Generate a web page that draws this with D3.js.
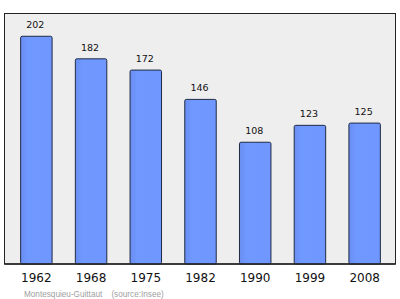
<!DOCTYPE html>
<html>
<head>
<meta charset="utf-8">
<script src="https://cdn.jsdelivr.net/npm/d3@7"></script>
<style>
  body { margin: 0; background: #fff; }
  svg { display: block; font-family: "DejaVu Sans", sans-serif; }
</style>
</head>
<body>
<div id="chart"></div>
<script>
const years = ["1962", "1968", "1975", "1982", "1990", "1999", "2008"];
const population = [202, 182, 172, 146, 108, 123, 125];
const footerName = "Montesquieu-Guittaut";
const footerSource = "(source:Insee)";

const width = 400, height = 299;
const frame = { left: 4.5, right: 395.5, top: 13.5, bottom: 264 };

const svg = d3.select("#chart").append("svg").attr("width", width).attr("height", height);

const defs = svg.append("defs");
const grad = defs.append("linearGradient").attr("id", "barFill").attr("x1", 0).attr("x2", 1).attr("y1", 0).attr("y2", 0);
grad.append("stop").attr("offset", "0").attr("stop-color", "#6a8ef2");
grad.append("stop").attr("offset", "0.25").attr("stop-color", "#7099ff");
grad.append("stop").attr("offset", "1").attr("stop-color", "#6f97ff");

const x = d3.scaleBand().domain(years).range([9, 392]).paddingInner(0.425).paddingOuter(0.2125);
const y = d3.scaleLinear().domain([0, d3.max(population) * 1.1]).range([frame.bottom, frame.top]);

// plot background
svg.append("rect")
  .attr("x", frame.left).attr("y", frame.top)
  .attr("width", frame.right - frame.left).attr("height", frame.bottom - frame.top)
  .attr("fill", "#eeeeee").attr("stroke", "#222").attr("stroke-width", 1);

svg.append("g")
  .selectAll("rect")
  .data(population)
  .join("rect")
  .attr("x", (d, i) => x(years[i]))
  .attr("y", (d) => y(d))
  .attr("width", x.bandwidth())
  .attr("height", (d) => y(0) - y(d))
  .attr("rx", 1.5)
  .attr("fill", "url(#barFill)")
  .attr("stroke", "#1f2a44")
  .attr("stroke-width", 1);

svg.append("line")
  .attr("x1", frame.left).attr("x2", frame.right)
  .attr("y1", frame.bottom).attr("y2", frame.bottom)
  .attr("stroke", "#222").attr("stroke-width", 1.5);

svg.append("g")
  .selectAll("text")
  .data(population)
  .join("text")
  .attr("x", (d, i) => x(years[i]) + x.bandwidth() / 2 - 1)
  .attr("y", (d) => y(d) - 8)
  .attr("text-anchor", "middle")
  .attr("font-size", 9.5)
  .attr("fill", "#111")
  .text((d) => d);

const xAxis = svg.append("g")
  .attr("transform", `translate(0,${frame.bottom})`)
  .call(d3.axisBottom(x).tickSize(0).tickPadding(9));
xAxis.select(".domain").remove();
xAxis.selectAll("text")
  .attr("font-family", "DejaVu Sans, sans-serif")
  .attr("font-size", 12)
  .attr("fill", "#111");

svg.append("text")
  .attr("x", 24).attr("y", 296.5)
  .attr("font-family", "Liberation Sans, sans-serif")
  .attr("font-size", 8.2)
  .attr("fill", "#a0a0a0")
  .text(footerName + "\u00a0\u00a0\u00a0\u00a0" + footerSource);
</script>
</body>
</html>
